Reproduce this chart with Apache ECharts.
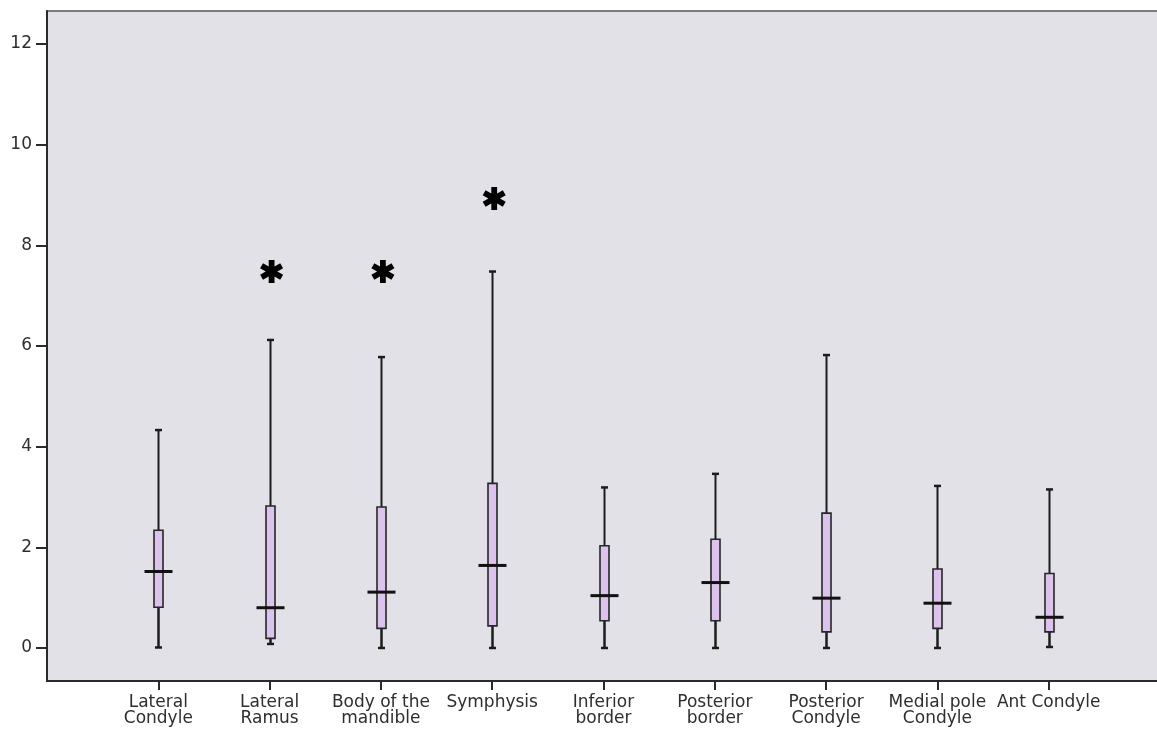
<!DOCTYPE html>
<html>
<head>
<meta charset="utf-8">
<script src="https://cdn.jsdelivr.net/npm/echarts@6/dist/echarts.min.js"></script>
<style>
  html, body { margin: 0; padding: 0; background: #ffffff; }
  #chart { width: 1157px; height: 729px; }
</style>
</head>
<body>
<div id="chart"></div>
<script>
// Box-plot summary per mandible region
const categories = [
  'Lateral\nCondyle', 'Lateral\nRamus', 'Body of the\nmandible', 'Symphysis',
  'Inferior\nborder', 'Posterior\nborder', 'Posterior\nCondyle',
  'Medial pole\nCondyle', 'Ant Condyle'
];
const whiskerLow  = [0.01, 0.08, 0.00, 0.00, 0.00, 0.00, 0.00, 0.00, 0.02];
const quartile1   = [0.81, 0.19, 0.39, 0.44, 0.54, 0.54, 0.32, 0.39, 0.32];
const medians     = [1.52, 0.80, 1.11, 1.64, 1.04, 1.30, 0.99, 0.89, 0.61];
const quartile3   = [2.34, 2.82, 2.80, 3.27, 2.03, 2.16, 2.68, 1.57, 1.48];
const whiskerHigh = [4.33, 6.12, 5.78, 7.48, 3.19, 3.46, 5.82, 3.22, 3.15];

// Extreme values (asterisks)
const extremeCategory = [1, 2, 3];   // index into categories
const extremeValues   = [7.48, 7.48, 8.93];

const yTicks = [0, 2, 4, 6, 8, 10, 12];

const boxData = categories.map((c, i) => [
  i + 1, whiskerLow[i], quartile1[i], medians[i], quartile3[i], whiskerHigh[i]
]);
const extremeData = extremeCategory.map((ci, k) => [ci + 1, extremeValues[k]]);
const catPositions = categories.map((c, i) => i + 1);

const FONT = 'DejaVu Sans';
const INK = '#1c1c1c';

// Six-armed asterisk built from three bars
const asteriskPath = 'path://' +
  'M7.5 0L12.5 0L12.5 20L7.5 20Z' +
  'M17.41 2.835L19.91 7.165L2.59 17.165L0.09 12.835Z' +
  'M19.91 12.835L17.41 17.165L0.09 7.165L2.59 2.835Z';

function renderBox(params, api) {
  const x = api.value(0);
  const lo = api.coord([x, api.value(1)]);
  const q1 = api.coord([x, api.value(2)]);
  const md = api.coord([x, api.value(3)]);
  const q3 = api.coord([x, api.value(4)]);
  const hi = api.coord([x, api.value(5)]);
  const cx = Math.round(lo[0]) + 0.5;
  const boxW = 9, medW = 28, capW = 7;
  return {
    type: 'group',
    children: [
      { type: 'line', shape: { x1: cx, y1: hi[1], x2: cx, y2: q3[1] },
        style: { stroke: INK, lineWidth: 2 } },
      { type: 'line', shape: { x1: cx, y1: q1[1], x2: cx, y2: lo[1] },
        style: { stroke: INK, lineWidth: 2.5 } },
      { type: 'line', shape: { x1: cx - capW / 2, y1: hi[1], x2: cx + capW / 2, y2: hi[1] },
        style: { stroke: INK, lineWidth: 2.5 } },
      { type: 'line', shape: { x1: cx - capW / 2, y1: lo[1], x2: cx + capW / 2, y2: lo[1] },
        style: { stroke: INK, lineWidth: 2.5 } },
      { type: 'rect', shape: { x: cx - boxW / 2, y: q3[1], width: boxW, height: q1[1] - q3[1] },
        style: { fill: '#dcc3ee', stroke: '#262626', lineWidth: 1.6 } },
      { type: 'line', shape: { x1: cx - medW / 2, y1: md[1], x2: cx + medW / 2, y2: md[1] },
        style: { stroke: '#111111', lineWidth: 3 } }
    ]
  };
}

const chart = echarts.init(document.getElementById('chart'), null, { renderer: 'canvas' });
chart.setOption({
  animation: false,
  backgroundColor: '#ffffff',
  grid: {
    left: 47, right: -3, top: 11, bottom: 48,
    outerBoundsMode: 'none',
    containLabel: false,
    show: true,
    backgroundColor: '#e2e1e7',
    borderColor: '#7c7c7c',
    borderWidth: 2
  },
  xAxis: {
    type: 'value',
    min: 0,
    max: 10,
    axisLine: { show: true, onZero: false, lineStyle: { color: '#2a2a2a', width: 2 } },
    axisTick: { show: true, customValues: catPositions, length: 9,
      lineStyle: { color: '#2a2a2a', width: 2 } },
    axisLabel: {
      customValues: catPositions,
      formatter: v => categories[Math.round(v) - 1] || '',
      fontFamily: FONT, fontSize: 17, lineHeight: 16, color: '#2e2e2e', margin: 14
    },
    splitLine: { show: false }
  },
  yAxis: {
    type: 'value',
    min: -0.656,
    max: 12.656,
    axisLine: { show: true, onZero: false, lineStyle: { color: '#2a2a2a', width: 2 } },
    axisTick: { show: true, customValues: yTicks, length: 11,
      lineStyle: { color: '#2a2a2a', width: 2 } },
    axisLabel: {
      customValues: yTicks,
      fontFamily: FONT, fontSize: 17, color: '#2e2e2e', margin: 15
    },
    splitLine: { show: false }
  },
  series: [
    {
      type: 'custom',
      renderItem: renderBox,
      encode: { x: 0, y: [1, 2, 3, 4, 5] },
      data: boxData,
      clip: false,
      z: 3
    },
    {
      type: 'scatter',
      data: extremeData,
      symbol: asteriskPath,
      symbolSize: 23,
      symbolOffset: [2, 0],
      itemStyle: { color: '#000000', opacity: 1 },
      z: 4
    }
  ]
});
</script>
</body>
</html>
